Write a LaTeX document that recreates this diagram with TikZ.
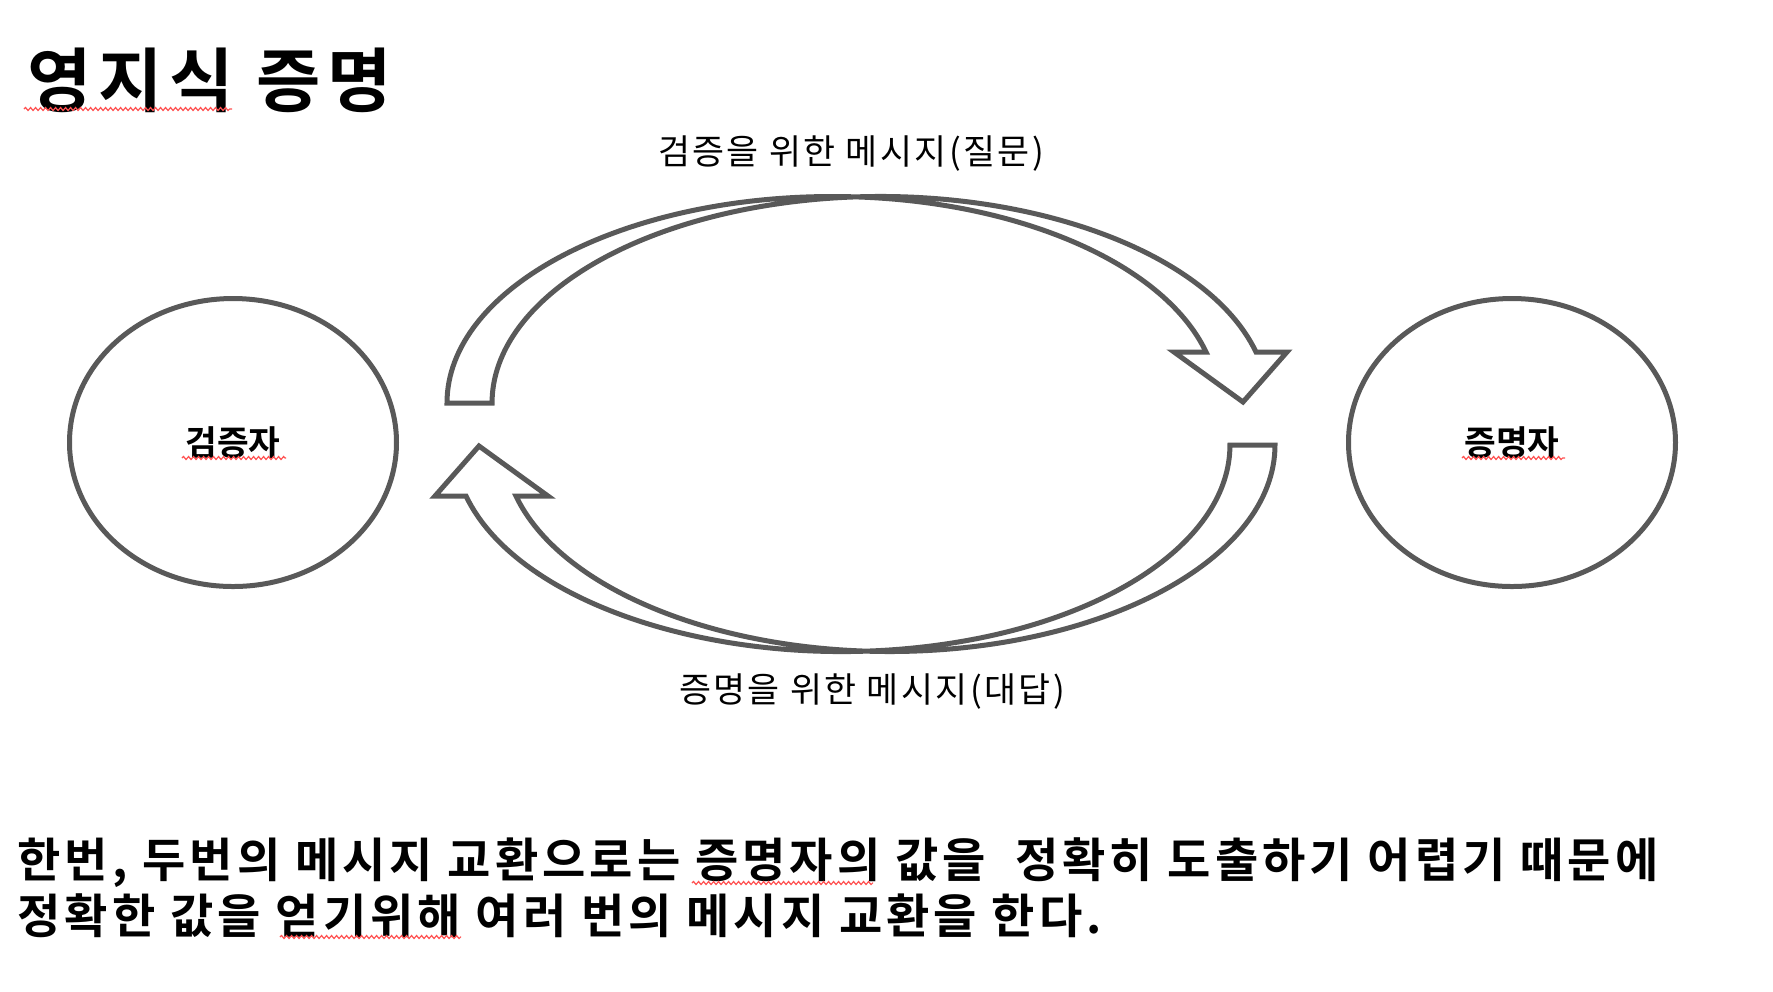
\documentclass[tikz,border=0pt]{standalone}
\usepackage{fontspec}
\setmainfont{Noto Sans CJK KR}[BoldFont={Noto Sans CJK KR Bold}]
\newfontfamily\widekr{Noto Sans CJK KR}[BoldFont={Noto Sans CJK KR Bold}, LetterSpace=7]
\newfontfamily\notekr{Noto Sans CJK KR}[BoldFont={Noto Sans CJK KR Bold}, LetterSpace=8.5]
\newfontfamily\titlekr{Noto Sans CJK KR}[BoldFont={Noto Sans CJK KR Bold}, LetterSpace=9.5]
\usetikzlibrary{positioning, shapes.geometric, decorations.pathmorphing}
\definecolor{linegray}{HTML}{595959}
\definecolor{spellred}{HTML}{FF5050}

\begin{document}
\begin{tikzpicture}[
    x=0.1mm, y=0.1mm,
    every node/.style={inner sep=0pt, text=black},
    party/.style={ellipse, draw=linegray, line width=0.5mm, fill=white,
                  minimum width=32.7mm, minimum height=28.8mm,
                  font=\fontsize{9.8}{12}\selectfont\bfseries},
    msg/.style={font=\widekr\fontsize{9.9}{12}\selectfont},
    bigarrow/.style={draw=linegray, line width=0.5mm, fill=white},
    spellmark/.style={draw=spellred, line width=0.12mm, decorate,
                      decoration={snake, segment length=0.5mm, amplitude=0.15mm}},
  ]
  \useasboundingbox (0,0) rectangle (1773,-991);

  \node[anchor=west, font=\titlekr\fontsize{19.9}{24}\selectfont\bfseries] (title) at (27,-80) {영지식 증명};

  \node[party] (verifier) at (233,-442.5) {검증자};
  \node[party] (prover) at (1512,-442.5) {증명자};

  \foreach \r in {0,180}
    \draw[bigarrow, rotate around={\r:(861,-424)}]
      (447,-403) arc[start angle=180, end angle=14.3, x radius=38.55mm, y radius=20.65mm]
      -- (1174,-352) -- (1243,-402) -- (1287,-352) -- (1256,-352)
      arc[start angle=14.3, end angle=180, x radius=38.8mm, y radius=20.65mm]
      -- cycle;

  \node[msg] (ask) at (851,-154) {검증을 위한 메시지(질문)};
  \node[msg] (answer) at (872,-692) {증명을 위한 메시지(대답)};

  \node[anchor=base west, align=left, font=\notekr\fontsize{13.4}{15.9}\selectfont\bfseries] (note) at (17,-933)
    {한번, 두번의 메시지 교환으로는 증명자의 값을~~정확히 도출하기 어렵기 때문에\\
     정확한 값을 얻기위해 여러 번의 메시지 교환을 한다.};

  \draw[spellmark] (24,-109) -- (232,-109);
  \draw[spellmark] (182,-458) -- (286,-458);
  \draw[spellmark] (1462,-458) -- (1565,-458);
  \draw[spellmark] (692,-883) -- (873,-883);
  \draw[spellmark] (280,-937) -- (461,-937);
\end{tikzpicture}
\end{document}
